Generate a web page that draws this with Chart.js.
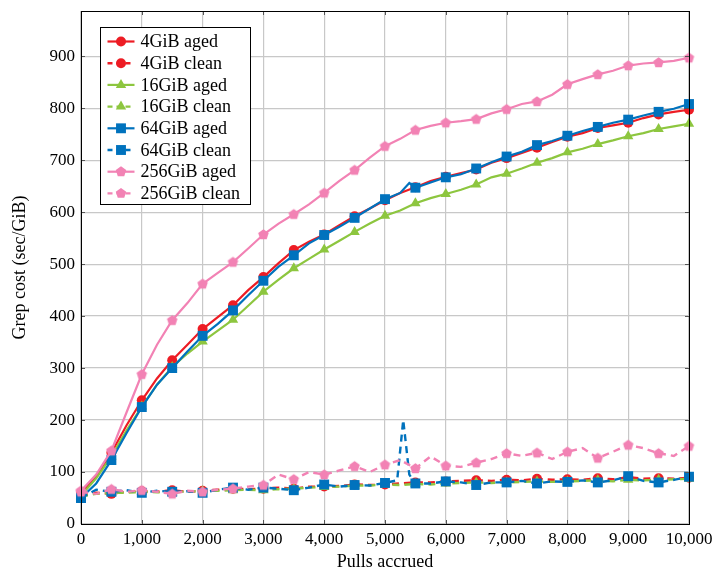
<!DOCTYPE html>
<html>
<head>
<meta charset="utf-8">
<script src="https://cdn.jsdelivr.net/npm/chart.js@4.4.0/dist/chart.umd.min.js"></script>
<style>
html, body { margin: 0; padding: 0; background: #fff; }
</style>
</head>
<body>
<canvas id="grepChart" width="715" height="571"></canvas>
<script>
const pulls = [0, 250, 500, 750, 1000, 1250, 1500, 1750, 2000, 2250, 2500, 2750, 3000, 3250, 3500, 3750, 4000, 4250, 4500, 4750, 5000, 5250, 5500, 5750, 6000, 6250, 6500, 6750, 7000, 7250, 7500, 7750, 8000, 8250, 8500, 8750, 9000, 9250, 9500, 9750, 10000];
const pulls64aged = [0, 250, 500, 750, 1000, 1250, 1500, 1750, 2000, 2250, 2500, 2750, 3000, 3250, 3500, 3750, 4000, 4250, 4500, 4750, 5000, 5250, 5400, 5500, 5750, 6000, 6250, 6500, 6750, 7000, 7250, 7500, 7750, 8000, 8250, 8500, 8750, 9000, 9250, 9500, 9750, 10000];
const pulls64clean = [0, 250, 500, 750, 1000, 1250, 1500, 1750, 2000, 2250, 2500, 2750, 3000, 3250, 3500, 3750, 4000, 4250, 4500, 4750, 5000, 5200, 5300, 5400, 5500, 5750, 6000, 6250, 6500, 6750, 7000, 7250, 7500, 7750, 8000, 8250, 8500, 8750, 9000, 9250, 9500, 9750, 10000];

const aged4 = [58, 92, 137, 190, 238, 280, 315, 345, 375, 398, 421, 450, 475, 502, 527, 543, 557, 575, 592, 607, 623, 637, 648, 660, 668, 675, 682, 695, 704, 714, 724, 735, 745, 752, 762, 767, 772, 781, 788, 793, 797];
const clean4 = [55, 60, 58, 62, 63, 62, 65, 62, 64, 66, 68, 67, 68, 70, 68, 72, 72, 73, 76, 75, 76, 78, 80, 80, 82, 83, 84, 83, 85, 84, 87, 85, 86, 85, 88, 86, 90, 87, 88, 87, 89];
const aged16 = [55, 88, 130, 180, 226, 268, 302, 328, 351, 372, 393, 420, 447, 470, 492, 510, 528, 545, 562, 578, 593, 603, 617, 627, 635, 643, 653, 667, 674, 684, 695, 704, 715, 722, 731, 738, 746, 752, 760, 765, 770];
const clean16 = [53, 58, 60, 60, 62, 61, 60, 63, 63, 64, 65, 66, 65, 67, 68, 70, 71, 72, 74, 74, 76, 75, 77, 76, 78, 79, 80, 79, 80, 81, 82, 81, 82, 83, 84, 82, 85, 84, 85, 86, 87];
const aged64 = [50, 78, 123, 175, 225, 268, 300, 332, 362, 385, 411, 440, 468, 495, 517, 540, 556, 572, 589, 607, 625, 637, 656, 647, 657, 667, 673, 684, 696, 707, 716, 729, 737, 747, 756, 764, 772, 778, 786, 793, 799, 808];
const clean64 = [50, 66, 62, 65, 60, 64, 62, 63, 60, 66, 70, 66, 70, 68, 65, 70, 76, 72, 75, 74, 79, 84, 200, 95, 78, 78, 82, 80, 75, 80, 80, 83, 78, 82, 81, 84, 80, 84, 92, 83, 80, 85, 91];
const aged256 = [64, 95, 141, 215, 288, 345, 392, 425, 462, 483, 504, 530, 557, 578, 596, 615, 637, 660, 681, 705, 727, 741, 758, 766, 772, 775, 779, 790, 798, 808, 813, 826, 846, 856, 865, 872, 882, 886, 888, 891, 897];
const clean256 = [62, 58, 67, 62, 65, 62, 58, 64, 62, 66, 68, 72, 75, 95, 86, 100, 95, 103, 111, 100, 114, 123, 107, 130, 112, 110, 118, 125, 136, 131, 137, 125, 139, 146, 127, 139, 152, 146, 136, 131, 150];

const seriesNames = ['4GiB aged', '4GiB clean', '16GiB aged', '16GiB clean', '64GiB aged', '64GiB clean', '256GiB aged', '256GiB clean'];

const red = '#ed1c24';
const green = '#8dc63f';
const blue = '#0072bd';
const pink = '#f282b4';
const serif = "'Liberation Serif', 'Times New Roman', serif";

const markerSize = { circle: 5, triangle: 6, rect: 7, pentagon: 5.5 };

function drawMarker(ctx, shape, x, y, r, color) {
    ctx.save();
    ctx.fillStyle = color;
    ctx.beginPath();
    if (shape === 'circle') {
        ctx.arc(x, y, r, 0, Math.PI * 2);
    } else if (shape === 'rect') {
        const s = r * Math.SQRT1_2;
        ctx.rect(x - s, y - s, s * 2, s * 2);
    } else {
        const n = shape === 'triangle' ? 3 : 5;
        for (let k = 0; k < n; k++) {
            const a = -Math.PI / 2 + k * Math.PI * 2 / n;
            if (k === 0) ctx.moveTo(x + Math.cos(a) * r, y + Math.sin(a) * r);
            else ctx.lineTo(x + Math.cos(a) * r, y + Math.sin(a) * r);
        }
        ctx.closePath();
    }
    ctx.fill();
    ctx.restore();
}

function pentagonImg(color) {
    const c = document.createElement('canvas');
    c.width = 13;
    c.height = 13;
    drawMarker(c.getContext('2d'), 'pentagon', 6.5, 6.8, markerSize.pentagon, color);
    return c;
}

function makeSet(i, xs, ys, color, shape, dashed) {
    return {
        label: seriesNames[i],
        data: xs.map((x, k) => ({ x: x, y: ys[k] })),
        borderColor: color,
        backgroundColor: color,
        borderWidth: dashed ? 2.4 : 2.2,
        borderDash: dashed ? [7, 5] : [],
        pointStyle: shape === 'pentagon' ? pentagonImg(color) : shape,
        pointRadius: ctx => (ctx.raw && ctx.raw.x % 500 === 0 ? markerSize[shape] : 0),
        pointHoverRadius: 0,
        pointBorderWidth: 0,
        pointBackgroundColor: color,
        tension: 0,
        fill: false,
        clip: 10,
        order: 8 - i,
        shape: shape,
        dashed: dashed
    };
}

const datasets = [
    makeSet(0, pulls, aged4, red, 'circle', false),
    makeSet(1, pulls, clean4, red, 'circle', true),
    makeSet(2, pulls, aged16, green, 'triangle', false),
    makeSet(3, pulls, clean16, green, 'triangle', true),
    makeSet(4, pulls64aged, aged64, blue, 'rect', false),
    makeSet(5, pulls64clean, clean64, blue, 'rect', true),
    makeSet(6, pulls, aged256, pink, 'pentagon', false),
    makeSet(7, pulls, clean256, pink, 'pentagon', true)
];

// frame, inward ticks and the pgfplots-like legend box
const framePlugin = {
    id: 'framePlugin',
    afterDraw(chart) {
        const ctx = chart.ctx;
        const ca = chart.chartArea;
        const xs = chart.scales.x;
        const ys = chart.scales.y;
        ctx.save();
        ctx.strokeStyle = '#555';
        ctx.lineWidth = 1;
        ctx.beginPath();
        xs.ticks.forEach(t => {
            const px = Math.round(xs.getPixelForValue(t.value)) + 0.5;
            ctx.moveTo(px, ca.bottom); ctx.lineTo(px, ca.bottom - 4);
            ctx.moveTo(px, ca.top); ctx.lineTo(px, ca.top + 4);
        });
        ys.ticks.forEach(t => {
            const py = Math.round(ys.getPixelForValue(t.value)) + 0.5;
            ctx.moveTo(ca.left, py); ctx.lineTo(ca.left + 4, py);
            ctx.moveTo(ca.right, py); ctx.lineTo(ca.right - 4, py);
        });
        ctx.stroke();
        ctx.strokeStyle = '#000';
        ctx.strokeRect(Math.round(ca.left) + 0.5, Math.round(ca.top) + 0.5, Math.round(ca.right - ca.left), Math.round(ca.bottom - ca.top));

        const lx = Math.round(ca.left) + 19.5;
        const ly = Math.round(ca.top) + 16.5;
        const lw = 150;
        const lh = 177;
        const row = 21.7;
        ctx.fillStyle = '#fff';
        ctx.fillRect(lx, ly, lw, lh);
        ctx.strokeRect(lx, ly, lw, lh);
        ctx.font = '18px ' + serif;
        ctx.textBaseline = 'middle';
        chart.data.datasets.forEach((ds, i) => {
            const cy = ly + 14 + i * row;
            ctx.strokeStyle = ds.borderColor;
            ctx.lineWidth = ds.borderWidth;
            ctx.setLineDash(ds.dashed ? [5, 4] : []);
            ctx.beginPath();
            ctx.moveTo(lx + 7, cy);
            ctx.lineTo(lx + 34, cy);
            ctx.stroke();
            ctx.setLineDash([]);
            drawMarker(ctx, ds.shape, lx + 20.5, cy, markerSize[ds.shape], ds.borderColor);
            ctx.fillStyle = '#000';
            ctx.fillText(ds.label, lx + 40, cy + 1);
        });
        ctx.restore();
    }
};

const ctxGrep = document.getElementById('grepChart').getContext('2d');
const grepChart = new Chart(ctxGrep, {
    type: 'line',
    data: { datasets: datasets },
    options: {
        responsive: false,
        animation: false,
        layout: { padding: { top: 11, right: 26, left: 0, bottom: 0 } },
        plugins: {
            legend: { display: false },
            tooltip: { enabled: false }
        },
        scales: {
            x: {
                type: 'linear',
                min: 0,
                max: 10000,
                border: { display: false },
                grid: { color: '#c8c8c8', lineWidth: 1.2, drawTicks: false },
                ticks: {
                    stepSize: 1000,
                    maxRotation: 0,
                    padding: 5,
                    color: '#000',
                    font: { family: serif, size: 17 },
                    callback: v => v.toLocaleString('en-US')
                },
                title: {
                    display: true,
                    text: 'Pulls accrued',
                    color: '#000',
                    font: { family: serif, size: 18, lineHeight: 1 },
                    padding: { top: 0, bottom: 0 }
                },
                afterFit: s => { s.height = 47; s.paddingLeft = 0; s.paddingRight = 0; }
            },
            y: {
                min: 0,
                max: 987,
                border: { display: false },
                grid: { color: '#c8c8c8', lineWidth: 1.2, drawTicks: false },
                ticks: {
                    stepSize: 100,
                    padding: 6,
                    color: '#000',
                    font: { family: serif, size: 17 }
                },
                afterBuildTicks: s => { s.ticks = s.ticks.filter(t => t.value % 100 === 0); },
                title: {
                    display: true,
                    text: 'Grep cost (sec/GiB)',
                    color: '#000',
                    font: { family: serif, size: 18, lineHeight: 1 },
                    padding: { top: 11, bottom: 0 }
                },
                afterFit: s => { s.width = 81; s.paddingTop = 0; s.paddingBottom = 0; }
            }
        }
    },
    plugins: [framePlugin]
});
</script>
</body>
</html>
